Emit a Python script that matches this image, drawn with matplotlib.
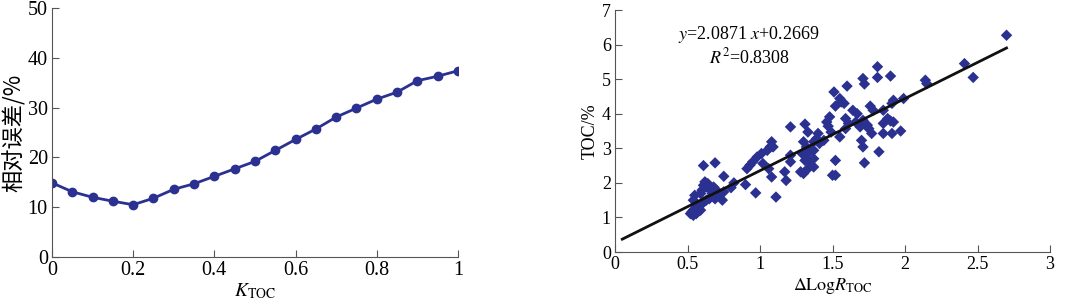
import numpy as np
import matplotlib.pyplot as plt

plt.rcParams['font.family'] = ['Liberation Serif', 'DejaVu Serif']
plt.rcParams['mathtext.fontset'] = 'stix'

# linkes Diagramm: relativer Fehler gegen K_TOC
k_toc = [0.0, 0.05, 0.1, 0.15, 0.2, 0.25, 0.3, 0.35, 0.4, 0.45, 0.5,
         0.55, 0.6, 0.65, 0.7, 0.75, 0.8, 0.85, 0.9, 0.95, 1.0]
rel_fehler = [14.9, 13.1, 12.0, 11.2, 10.5, 11.8, 13.6, 14.7, 16.2, 17.7, 19.2,
              21.4, 23.6, 25.7, 28.1, 29.9, 31.7, 33.1, 35.4, 36.3, 37.4]

# rechtes Diagramm: TOC gegen Delta LogR
dlogr = [2.70, 2.41, 2.47, 2.14, 2.15, 1.81, 1.81, 1.90, 1.71, 1.72, 1.60, 1.51,
         1.55, 1.56, 1.58, 1.52, 1.99, 1.92, 1.91, 1.64, 1.67, 1.76, 1.78, 1.85,
         1.48, 1.46, 1.47, 1.49, 1.55, 1.59, 1.61, 1.59, 1.66, 1.69, 1.71, 1.74,
         1.75, 1.77, 1.70, 1.71, 1.72, 1.82, 1.85, 1.85, 1.88, 1.90, 1.92, 1.91,
         1.97, 1.52, 1.50, 1.52, 1.21, 1.31, 1.33, 1.40, 1.39, 1.37, 1.41, 1.44,
         1.30, 1.32, 1.29, 1.33, 1.37, 1.31, 1.34, 1.37, 1.28, 1.30, 1.33, 1.37,
         1.21, 1.21, 1.17, 1.18, 1.08, 1.09, 1.07, 1.05, 1.01, 1.02, 1.06, 1.08,
         1.11, 0.98, 0.95, 0.93, 0.91, 0.97, 0.90, 0.82, 0.80, 0.75, 0.69, 0.61,
         0.75, 0.74, 0.70, 0.68, 0.67, 0.65, 0.63, 0.61, 0.60, 0.59, 0.62, 0.64,
         0.65, 0.63, 0.61, 0.59, 0.56, 0.55, 0.54, 0.53, 0.54, 0.56, 0.57, 0.59,
         0.52, 0.54, 0.56, 0.68, 0.69, 0.71]
toc = [6.27, 5.45, 5.05, 4.97, 4.87, 5.36, 5.05, 5.09, 5.02, 4.86, 4.80, 4.63,
       4.44, 4.34, 4.30, 4.22, 4.44, 4.39, 4.30, 4.10, 4.00, 4.22, 4.10, 4.10,
       3.91, 3.76, 3.64, 3.47, 3.33, 3.86, 3.72, 3.57, 3.76, 3.62, 3.81, 3.67,
       3.57, 3.43, 3.23, 3.04, 2.58, 2.90, 3.43, 3.72, 3.86, 3.79, 3.76, 3.43,
       3.50, 2.65, 2.22, 2.22, 3.62, 3.70, 3.47, 3.43, 3.28, 3.19, 3.14, 3.23,
       3.19, 3.04, 2.85, 2.85, 2.94, 2.65, 2.61, 2.70, 2.32, 2.27, 2.41, 2.46,
       2.80, 2.61, 2.32, 2.07, 3.19, 3.04, 3.04, 2.94, 2.85, 2.56, 2.41, 2.17,
       1.59, 2.75, 2.61, 2.51, 2.41, 1.71, 1.95, 2.00, 1.86, 2.19, 2.58, 2.50,
       1.74, 1.50, 1.79, 1.88, 1.69, 1.54, 1.88, 1.93, 1.79, 1.69, 2.03, 1.98,
       1.83, 1.50, 1.45, 1.35, 1.30, 1.64, 1.50, 1.16, 1.06, 1.11, 1.16, 1.21,
       1.11, 1.21, 1.40, 1.59, 1.54, 1.64]

steigung = 2.0871
achse = 0.2669
fit_x = [0.05, 2.70]

blau = '#2b3191'
grau = '#555555'

fig = plt.figure(figsize=(10.67, 3.04), dpi=100)

ax1 = fig.add_axes([0.0487, 0.1546, 0.3805, 0.819])
ax1.plot(k_toc, rel_fehler, color=blau, lw=2, marker='o', ms=6)
ax1.set_xlim(0, 1)
ax1.set_ylim(0, 50)
ax1.set_xticks([0, 0.2, 0.4, 0.6, 0.8, 1])
ax1.set_xticklabels(['0', '0.2', '0.4', '0.6', '0.8', '1'])
ax1.set_yticks([0, 10, 20, 30, 40, 50])
ax1.set_xlabel(r'$K_{\mathrm{TOC}}$', fontsize=14, labelpad=1)
ax1.set_ylabel('相对误差/%', fontsize=16, family=['Noto Sans CJK SC', 'DejaVu Sans'], labelpad=1)
ax1.tick_params(labelsize=14.5)

ax2 = fig.add_axes([0.5764, 0.171, 0.4077, 0.796])
ax2.scatter(dlogr, toc, marker='D', s=34, color=blau, edgecolors='none', zorder=2)
fx = np.array(fit_x)
ax2.plot(fx, steigung * fx + achse, color='#111111', lw=2, zorder=3)
ax2.set_xlim(0, 3)
ax2.set_ylim(0, 7)
ax2.set_xticks([0, 0.5, 1, 1.5, 2, 2.5, 3])
ax2.set_xticklabels(['0', '0.5', '1', '1.5', '2', '2.5', '3'])
ax2.set_yticks(range(8))
ax2.set_xlabel(r'$\Delta\mathrm{Log}R_{\mathrm{TOC}}$', fontsize=13, labelpad=2)
ax2.set_ylabel('TOC/%', fontsize=13, labelpad=2)
ax2.text(0.92, 6.3, r'$y$=2.0871 $x$+0.2669', fontsize=13, ha='center', va='center')
ax2.text(0.93, 5.63, r'$R^2$=0.8308', fontsize=13, ha='center', va='center')
ax2.tick_params(labelsize=13)

for ax in (ax1, ax2):
    ax.spines['top'].set_visible(False)
    ax.spines['right'].set_visible(False)
    ax.spines['left'].set_color(grau)
    ax.spines['bottom'].set_color(grau)
    ax.tick_params(direction='in', length=5, color=grau, pad=3)

fig.savefig('out.png', dpi=100)
